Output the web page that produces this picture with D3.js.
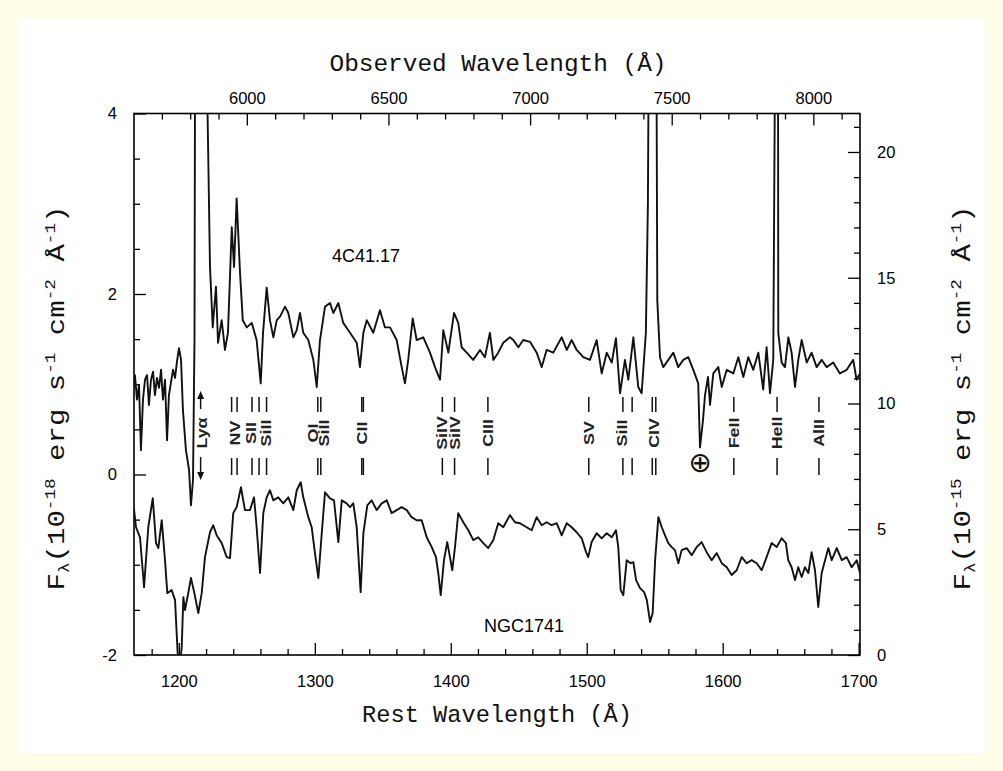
<!DOCTYPE html>
<html>
<head>
<meta charset="utf-8">
<script src="https://cdn.jsdelivr.net/npm/d3@7"></script>
<style>
  html, body { margin: 0; padding: 0; background: #fffde6; }
  svg { display: block; }
</style>
</head>
<body>
<svg id="chart" width="1003" height="771"></svg>
<script>
// ---- 4C41.17: rest wavelength (Å) and flux (1e-18 erg/s/cm2/Å, left axis)
const wave4C = [
  1166.3,1167.7,1169.2,1170.7,1172.1,1173.6,1175.1,1176.6,1178.0,1179.5,
  1181.0,1182.4,1183.9,1185.4,1186.9,1188.3,1189.8,1191.3,1192.7,1194.2,
  1195.7,1197.2,1198.6,1200.1,1201.6,1203.0,1205.2,1207.5,1208.9,1210.4,
  1211.5,1211.9,1214.0,1216.5,1219.0,1220.8,
  1222.9,1224.9,1227.3,1228.8,1231.5,1233.9,1236.1,1238.9,1240.6,1242.5,
  1245.0,1247.0,1249.9,1253.6,1257.2,1260.2,1261.9,1264.6,1267.0,1269.5,
  1272.0,1274.4,1278.1,1280.5,1284.2,1286.7,1289.1,1291.5,1295.2,1298.9,
  1301.4,1303.8,1307.5,1311.2,1313.6,1317.3,1320.9,1325.9,1330.8,1333.2,
  1335.7,1338.2,1343.0,1347.9,1351.6,1355.3,1360.2,1363.9,1366.3,1368.7,
  1372.0,1374.9,1379.8,1384.7,1388.4,1392.1,1394.5,1398.2,1402.4,1405.5,
  1408.0,1411.7,1416.5,1421.5,1425.1,1428.8,1431.3,1434.9,1438.6,1443.5,
  1446.0,1449.7,1453.3,1458.3,1463.2,1466.9,1470.5,1475.4,1481.6,1485.3,
  1488.9,1492.6,1497.5,1502.4,1507.3,1511.0,1514.7,1518.4,1521.5,1524.5,
  1528.1,1530.6,1534.3,1537.9,1540.4,1543.5,1545.0,1545.7,1547.9,1551.3,
  1551.9,1553.9,1556.3,1560.0,1563.7,1567.3,1571.0,1574.7,1578.4,1582.0,
  1583.3,1585.5,1587.0,1589.2,1590.7,1593.1,1596.8,1599.3,1603.0,1607.8,
  1611.5,1615.2,1618.8,1622.5,1626.2,1629.8,1632.3,1634.8,1637.2,1638.5,
  1639.6,1640.7,1640.9,1643.4,1645.8,1648.3,1650.7,1653.2,1655.6,1658.1,
  1661.8,1665.4,1669.1,1672.8,1676.5,1681.3,1686.2,1691.2,1696.0,1698.5,
  1701.0
];
const flux4C = [
  0.94,1.10,0.83,0.99,0.27,0.83,1.05,1.10,0.77,1.05,
  1.14,0.88,1.07,0.96,1.16,0.83,1.05,0.38,0.88,1.02,
  1.16,1.07,1.25,1.40,1.27,0.71,0.27,0.05,-0.34,-0.06,
  1.5,4.5,7.5,8.5,6.5,4.3,
  2.30,1.63,2.08,1.46,1.71,1.38,1.57,2.74,2.30,3.06,
  2.23,1.71,1.63,1.68,1.49,1.01,1.57,2.07,1.71,1.52,
  1.71,1.75,1.86,1.79,1.52,1.60,1.79,1.57,1.49,1.27,
  0.97,1.49,1.86,1.90,1.79,1.90,1.68,1.57,1.46,1.19,
  1.57,1.71,1.57,1.82,1.63,1.63,1.49,1.19,1.01,1.27,
  1.73,1.49,1.52,1.35,1.19,1.05,1.60,1.35,1.79,1.68,
  1.41,1.35,1.27,1.38,1.30,1.57,1.27,1.35,1.46,1.52,
  1.49,1.41,1.49,1.47,1.35,1.19,1.38,1.35,1.52,1.38,
  1.49,1.38,1.30,1.27,1.49,1.12,1.35,1.24,1.51,0.90,
  1.27,1.05,1.52,0.97,0.90,1.57,3.0,5.0,8.0,4.6,
  1.93,1.30,1.19,1.27,1.35,1.19,1.27,1.30,1.16,1.01,
  0.30,0.60,0.88,1.08,0.77,1.12,1.19,0.97,1.16,1.12,
  1.30,1.08,1.30,1.16,1.35,0.94,1.41,0.90,1.27,4.6,
  8.0,4.6,1.57,1.24,1.19,1.52,1.35,0.97,1.27,1.49,
  1.24,1.35,1.19,1.27,1.19,1.24,1.12,1.16,1.27,1.05,
  1.12
];

// ---- NGC1741: rest wavelength (Å) and flux (1e-15 erg/s/cm2/Å, right axis)
const waveNGC = [
  1166.5,1168.5,1171.4,1174.4,1177.5,1180.8,1183.2,1184.9,1187.4,1189.8,
  1191.5,1194.7,1197.2,1199.1,1200.8,1202.1,1203.3,1204.5,1206.9,1208.9,
  1211.4,1214.3,1216.8,1219.2,1222.9,1225.3,1227.8,1231.5,1235.2,1237.6,
  1240.0,1242.5,1245.7,1248.6,1252.3,1255.3,1257.2,1259.7,1262.1,1264.6,
  1267.0,1269.5,1273.1,1276.8,1280.5,1284.2,1286.7,1289.6,1291.5,1295.2,
  1297.7,1300.1,1302.6,1305.1,1307.5,1311.2,1314.1,1317.3,1319.8,1323.4,
  1325.9,1328.3,1330.8,1333.7,1335.7,1338.6,1341.8,1345.5,1349.2,1352.9,
  1356.5,1360.2,1363.9,1367.6,1371.2,1374.9,1378.6,1382.3,1386.0,1389.1,
  1390.8,1392.6,1395.0,1397.4,1399.4,1401.1,1403.1,1405.5,1409.2,1412.9,
  1416.6,1420.2,1423.9,1427.6,1431.3,1434.9,1438.6,1443.5,1447.2,1450.9,
  1455.8,1459.5,1463.2,1466.9,1470.5,1474.2,1477.9,1481.6,1485.3,1488.9,
  1492.6,1496.3,1499.5,1501.1,1503.6,1507.3,1511.0,1514.7,1518.4,1521.5,
  1523.2,1525.0,1526.9,1529.4,1532.3,1534.3,1536.3,1539.2,1542.2,1544.2,
  1546.6,1548.5,1550.3,1552.7,1555.2,1557.6,1560.0,1562.5,1564.9,1567.4,
  1569.8,1573.5,1577.2,1580.9,1584.5,1588.2,1591.9,1595.6,1599.3,1603.0,
  1606.6,1610.3,1614.0,1617.6,1621.3,1625.0,1628.7,1632.3,1636.0,1639.7,
  1643.4,1646.5,1648.2,1650.7,1653.2,1655.6,1658.1,1660.5,1663.0,1665.4,
  1667.9,1670.3,1672.8,1675.3,1677.7,1680.2,1683.9,1687.6,1691.2,1694.9,
  1698.6,1701.0
];
const fluxNGC = [
  6.03,5.08,4.68,2.70,5.08,6.23,4.45,4.25,5.36,3.77,
  2.46,2.58,2.18,0.08,-0.40,0.32,2.30,1.79,2.46,3.06,
  2.46,1.67,2.46,3.89,4.88,5.16,4.76,4.45,3.89,3.85,
  5.64,5.88,6.67,5.76,5.76,6.27,5.08,3.26,5.64,6.27,
  6.55,6.15,6.27,6.03,6.27,5.76,6.55,6.87,6.27,5.48,
  5.08,4.05,3.06,4.84,6.47,6.23,6.15,4.49,6.15,6.03,
  5.88,6.03,5.08,2.50,4.84,5.95,6.15,5.76,6.03,6.15,
  5.64,5.76,5.88,5.76,5.48,5.36,5.36,4.68,4.29,3.89,
  3.26,2.38,3.77,4.49,3.89,3.37,4.29,5.64,5.28,4.96,
  4.57,4.68,4.45,4.25,4.57,5.24,5.08,5.56,5.28,5.24,
  5.08,4.96,5.48,5.16,5.28,5.16,5.24,4.76,5.24,5.08,
  4.88,4.64,4.09,3.89,4.49,4.84,4.64,4.84,4.68,4.96,
  4.29,2.58,2.38,3.77,3.65,3.69,2.98,2.66,2.50,2.18,
  1.31,1.67,3.77,5.48,5.08,4.76,4.45,4.29,4.17,3.65,
  4.17,4.25,3.97,4.29,4.49,4.09,3.77,4.05,3.65,3.49,
  3.18,3.37,3.89,3.65,3.77,3.65,3.37,3.89,4.45,4.29,
  4.64,4.45,3.77,3.49,2.98,3.49,3.10,3.49,3.26,4.09,
  3.37,1.91,3.26,3.77,4.25,3.77,4.25,3.77,3.89,3.49,
  3.77,3.26
];

// ---- axes
const redshift = 3.8;
const restTicks = [1200, 1300, 1400, 1500, 1600, 1700];
const observedTicks = [6000, 6500, 7000, 7500, 8000];
const leftTicks = [-2, 0, 2, 4];
const rightTicks = [0, 5, 10, 15, 20];

// ---- line identifications
const lyaWave = 1216;
const idLabels = ["NV", "SII", "SiII", "OI", "SiII", "CII", "SiIV", "SiIV", "CIII",
                  "SV", "SiII", "CIV", "FeII", "HeII", "AlII"];
const idLabelWaves = [1241.0, 1252.8, 1264.2, 1299.0, 1307.0, 1335.0, 1393.8, 1402.8, 1427.3,
                      1501.5, 1526.0, 1549.2, 1608.2, 1640.0, 1670.8];
const idTickWaves = [1238.8, 1242.8, 1253.8, 1259.0, 1264.5, 1302.2, 1304.4, 1334.5, 1335.7,
                     1393.8, 1402.8, 1427.3, 1501.5, 1526.6, 1533.4, 1548.2, 1550.8,
                     1608.2, 1640.0, 1670.8];
const telluricWave = 1583.3;

// ---- layout
const W = 1003, H = 771;
const plot = { left: 134, right: 860, top: 113.5, bottom: 655 };

const svg = d3.select("#chart");

svg.append("rect").attr("x", 0).attr("y", 0).attr("width", W).attr("height", H)
  .attr("fill", "#fffde6");
svg.append("rect").attr("x", 18).attr("y", 18).attr("width", 967).attr("height", 735)
  .attr("fill", "#ffffff");

const x = d3.scaleLinear().domain([1167, 1701]).range([plot.left, plot.right]);
const xObs = d3.scaleLinear().domain([1167 * (1 + redshift), 1701 * (1 + redshift)])
  .range([plot.left, plot.right]);
const yL = d3.scaleLinear().domain([-2, 4]).range([plot.bottom, plot.top]);
const yR = d3.scaleLinear().domain([0, 21.53]).range([plot.bottom, plot.top]);

// clip for spectra
svg.append("defs").append("clipPath").attr("id", "plotClip")
  .append("rect")
  .attr("x", plot.left).attr("y", plot.top)
  .attr("width", plot.right - plot.left).attr("height", plot.bottom - plot.top);

const tickFont = "'Liberation Sans', Arial, sans-serif";
const titleFont = "'Liberation Mono', 'Courier New', monospace";
const plainNumber = d => String(d);

function styleAxis(g, showText) {
  g.select(".domain").remove();
  g.selectAll(".tick line").attr("stroke", "#000").attr("stroke-width", 1.3);
  g.selectAll(".tick text")
    .attr("font-family", tickFont).attr("font-size", 16.5).attr("fill", "#000");
  if (!showText) g.selectAll(".tick text").remove();
}

const minorRest = d3.range(1180, 1701, 20).filter(v => v % 100 !== 0);
const minorObs = d3.range(5700, 8200, 100).filter(v => v % 500 !== 0);
const minorLeft = d3.range(-1.5, 4, 0.5).filter(v => v % 2 !== 0);
const minorRight = d3.range(1, 22, 1).filter(v => v % 5 !== 0);

// bottom axis (rest wavelength)
svg.append("g").attr("transform", `translate(0,${plot.bottom})`)
  .call(d3.axisBottom(x).tickValues(restTicks).tickSize(-12).tickPadding(20).tickFormat(plainNumber))
  .call(g => styleAxis(g, true));
svg.append("g").attr("transform", `translate(0,${plot.bottom})`)
  .call(d3.axisBottom(x).tickValues(minorRest).tickSize(-6))
  .call(g => styleAxis(g, false));

// top axis (observed wavelength)
svg.append("g").attr("transform", `translate(0,${plot.top})`)
  .call(d3.axisTop(xObs).tickValues(observedTicks).tickSize(-12).tickPadding(10).tickFormat(plainNumber))
  .call(g => styleAxis(g, true));
svg.append("g").attr("transform", `translate(0,${plot.top})`)
  .call(d3.axisTop(xObs).tickValues(minorObs).tickSize(-6))
  .call(g => styleAxis(g, false));

// left axis
svg.append("g").attr("transform", `translate(${plot.left},0)`)
  .call(d3.axisLeft(yL).tickValues(leftTicks).tickSize(-12).tickPadding(17).tickFormat(plainNumber))
  .call(g => styleAxis(g, true));
svg.append("g").attr("transform", `translate(${plot.left},0)`)
  .call(d3.axisLeft(yL).tickValues(minorLeft).tickSize(-6))
  .call(g => styleAxis(g, false));

// right axis
svg.append("g").attr("transform", `translate(${plot.right},0)`)
  .call(d3.axisRight(yR).tickValues(rightTicks).tickSize(-12).tickPadding(17).tickFormat(plainNumber))
  .call(g => styleAxis(g, true));
svg.append("g").attr("transform", `translate(${plot.right},0)`)
  .call(d3.axisRight(yR).tickValues(minorRight).tickSize(-6))
  .call(g => styleAxis(g, false));

// frame
svg.append("rect")
  .attr("x", plot.left).attr("y", plot.top)
  .attr("width", plot.right - plot.left).attr("height", plot.bottom - plot.top)
  .attr("fill", "none").attr("stroke", "#000").attr("stroke-width", 1.6);

// spectra
const spectra = svg.append("g").attr("clip-path", "url(#plotClip)");
const line4C = d3.line().x(d => x(d[0])).y(d => yL(d[1]));
const lineNGC = d3.line().x(d => x(d[0])).y(d => yR(d[1]));
spectra.append("path")
  .datum(d3.zip(wave4C, flux4C))
  .attr("d", line4C)
  .attr("fill", "none").attr("stroke", "#111").attr("stroke-width", 1.9)
  .attr("stroke-linejoin", "round");
spectra.append("path")
  .datum(d3.zip(waveNGC, fluxNGC))
  .attr("d", lineNGC)
  .attr("fill", "none").attr("stroke", "#111").attr("stroke-width", 1.9)
  .attr("stroke-linejoin", "round");

// object names
svg.append("text").attr("x", 366).attr("y", 262).attr("text-anchor", "middle")
  .attr("font-family", tickFont).attr("font-size", 18).text("4C41.17");
svg.append("text").attr("x", 524).attr("y", 632).attr("text-anchor", "middle")
  .attr("font-family", tickFont).attr("font-size", 18).text("NGC1741");

// line identification markers (above and below each label)
const idUpper = [397, 412], idLower = [458, 475], idMid = 433;
const ids = svg.append("g");
ids.selectAll("line.up").data(idTickWaves).join("line")
  .attr("class", "up")
  .attr("x1", d => x(d)).attr("x2", d => x(d))
  .attr("y1", idUpper[0]).attr("y2", idUpper[1])
  .attr("stroke", "#111").attr("stroke-width", 1.5);
ids.selectAll("line.down").data(idTickWaves).join("line")
  .attr("class", "down")
  .attr("x1", d => x(d)).attr("x2", d => x(d))
  .attr("y1", idLower[0]).attr("y2", idLower[1])
  .attr("stroke", "#111").attr("stroke-width", 1.5);
ids.selectAll("text.lab").data(d3.zip(idLabels, idLabelWaves)).join("text")
  .attr("class", "lab")
  .attr("transform", d => `translate(${x(d[1])},${idMid}) rotate(-90) scale(1.05,0.82)`)
  .attr("text-anchor", "middle").attr("dy", "0.36em")
  .attr("font-family", tickFont).attr("font-size", 17).attr("font-weight", "bold").attr("fill", "#222")
  .text(d => d[0]);

// Lyα with arrows
const lx = x(lyaWave);
ids.append("line").attr("x1", lx).attr("x2", lx).attr("y1", 398).attr("y2", 409)
  .attr("stroke", "#111").attr("stroke-width", 1.5);
ids.append("path").attr("d", `M${lx},391 L${lx - 3.5},399 L${lx + 3.5},399 Z`).attr("fill", "#111");
ids.append("line").attr("x1", lx).attr("x2", lx).attr("y1", 457).attr("y2", 472)
  .attr("stroke", "#111").attr("stroke-width", 1.5);
ids.append("path").attr("d", `M${lx},480 L${lx - 3.5},472 L${lx + 3.5},472 Z`).attr("fill", "#111");
ids.append("text")
  .attr("transform", `translate(${lx + 1},${idMid}) rotate(-90) scale(1.05,0.82)`)
  .attr("text-anchor", "middle").attr("dy", "0.36em")
  .attr("font-family", tickFont).attr("font-size", 17).attr("font-weight", "bold").attr("fill", "#222")
  .text("Lyα");

// telluric absorption symbol
ids.append("text").attr("x", x(telluricWave)).attr("y", 462)
  .attr("text-anchor", "middle").attr("dy", "0.35em")
  .attr("font-family", "'DejaVu Sans', sans-serif").attr("font-size", 28).attr("fill", "#111")
  .text("⊕");

// axis titles
svg.append("text").attr("x", 498).attr("y", 71).attr("text-anchor", "middle")
  .attr("font-family", titleFont).attr("font-size", 24).attr("fill", "#111")
  .attr("textLength", 337).attr("lengthAdjust", "spacingAndGlyphs")
  .text("Observed Wavelength (Å)");
svg.append("text").attr("x", 497).attr("y", 722).attr("text-anchor", "middle")
  .attr("font-family", titleFont).attr("font-size", 24).attr("fill", "#111")
  .attr("textLength", 270).attr("lengthAdjust", "spacingAndGlyphs")
  .text("Rest Wavelength (Å)");

function fluxTitle(cx, cy, power) {
  const t = svg.append("text")
    .attr("transform", `translate(${cx},${cy}) rotate(-90)`)
    .attr("text-anchor", "middle")
    .attr("font-family", titleFont).attr("font-size", 23).attr("fill", "#111");
  const parts = [
    ["F", 0, 23], ["λ", 5, 14], ["(10", -5, 23], ["-" + power, -9, 14],
    [" erg s", 9, 23], ["-1", -9, 14], [" cm", 9, 23], ["-2", -9, 14],
    [" Å", 9, 23], ["-1", -9, 14], [")", 9, 23]
  ];
  parts.forEach(p => t.append("tspan").attr("dy", p[1]).attr("font-size", p[2]).text(p[0]));
  t.attr("textLength", 385).attr("lengthAdjust", "spacingAndGlyphs");
}
fluxTitle(64, 398, "18");
fluxTitle(970, 398, "15");
</script>
</body>
</html>
